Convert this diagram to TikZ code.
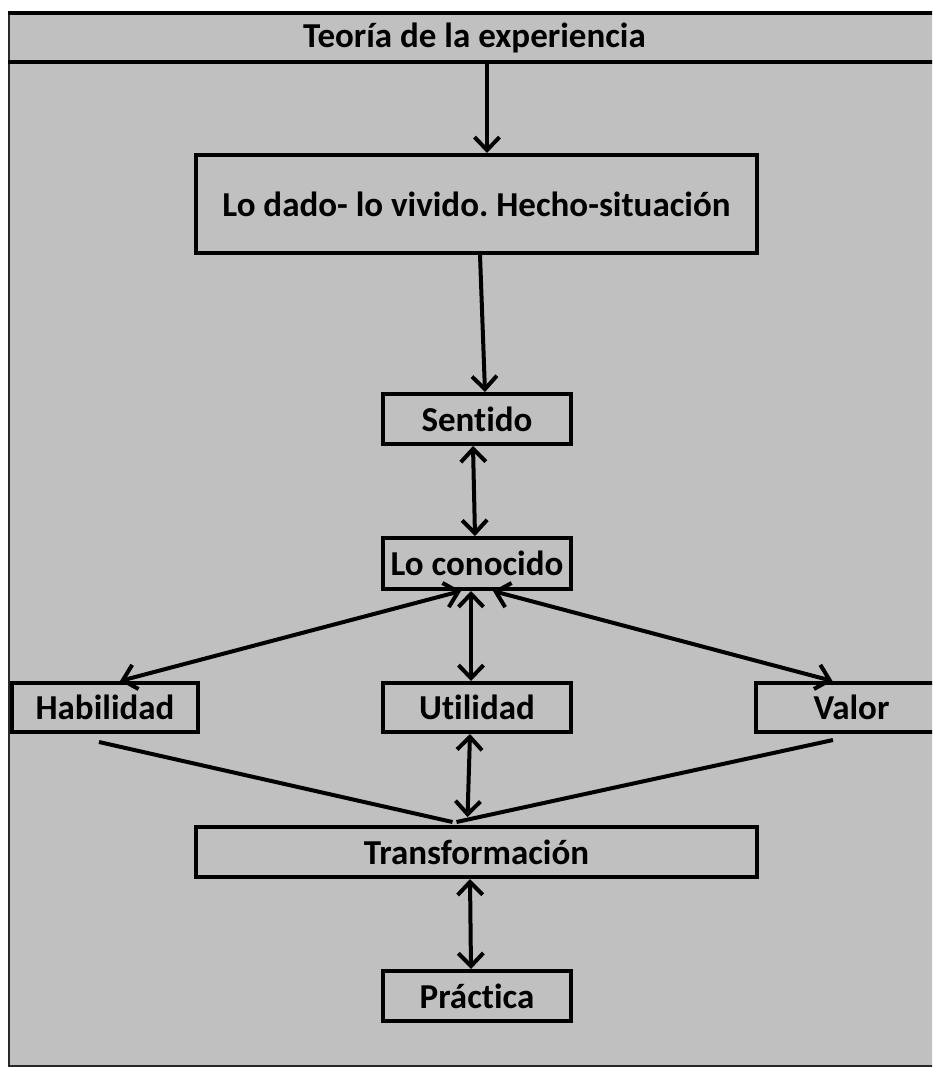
\documentclass[tikz,border=0pt]{standalone}
\usepackage{fontspec}
\setmainfont{Carlito}[Ligatures=NoCommon]
\usetikzlibrary{arrows.meta,calc}
\definecolor{bg}{RGB}{192,192,192}
\definecolor{frame}{RGB}{40,40,40}
\frenchspacing
\begin{document}
\begin{tikzpicture}[x=1pt,y=-1pt,
  box/.style={draw=black, line width=4pt, rectangle, inner sep=0pt,
    font=\fontsize{35}{38}\selectfont\bfseries, text=black},
  lbl/.style={inner sep=0pt, font=\fontsize{35}{38}\selectfont\bfseries, text=black},
  conn/.style={draw=black, line width=4pt},
  >={Straight Barb[length=13pt,width=25pt]}
]
\path[use as bounding box, clip] (0,0) rectangle (932,1068);
% frame
\fill[bg] (9,13) rectangle (945,1066);
\draw[frame, line width=2.5pt] (9,12) -- (9,1066) -- (945,1066);
\draw[black, line width=4pt] (8,13) -- (945,13);
\draw[black, line width=4pt] (8,62) -- (945,62);
% title band
\node[lbl, minimum width=931pt, minimum height=49pt] (band) at (474.5,37.5) {Teoría de la experiencia};
% boxes
\node[box, minimum width=561pt, minimum height=98pt] (dado) at (476.5,204) {\raisebox{-6pt}{Lo dado- lo vivido. Hecho-situación}};
\node[box, minimum width=188pt, minimum height=50pt] (sen) at (477,419) {Sentido};
\node[box, minimum width=188pt, minimum height=51pt] (lc) at (477,563.5) {Lo conocido};
\node[box, minimum width=186pt, minimum height=49pt] (hab) at (105,707.5) {Habilidad};
\node[box, minimum width=188pt, minimum height=49pt] (ut) at (477,707.5) {Utilidad};
\node[box, minimum width=191pt, minimum height=49pt] (val) at (851.5,707.5) {Valor};
\node[box, minimum width=561pt, minimum height=50pt] (tr) at (476.5,852) {Transformación};
\node[box, minimum width=188pt, minimum height=50pt] (pr) at (477,996) {Práctica};
% connectors
\draw[conn, ->] ([xshift=12.5pt]band.south) -- ([xshift=10.5pt]dado.north);
\draw[conn, ->] ([xshift=3.5pt]dado.south) -- ([xshift=8pt]sen.north);
\draw[conn, <->] ([xshift=-4pt]sen.south) -- ([xshift=-2pt]lc.north);
\draw[conn, <->] ([xshift=-16pt]lc.south) -- ([xshift=15pt]hab.north);
\draw[conn, <->] ([xshift=-6pt]lc.south) -- ([xshift=-6pt]ut.north);
\draw[conn, <->] ([xshift=16pt]lc.south) -- ([xshift=-19pt]val.north);
\draw[conn] ([xshift=-6pt,yshift=-8pt]hab.south) -- ([xshift=-24pt,yshift=3pt]tr.north);
\draw[conn] ([xshift=-18.5pt,yshift=-6pt]val.south) -- ([xshift=-20pt,yshift=3pt]tr.north);
\draw[conn, <->] ([xshift=-7pt]ut.south) -- ([xshift=-9pt,yshift=8pt]tr.north);
\draw[conn, <->] ([xshift=-6.5pt]tr.south) -- ([xshift=-6pt]pr.north);
\end{tikzpicture}
\end{document}
